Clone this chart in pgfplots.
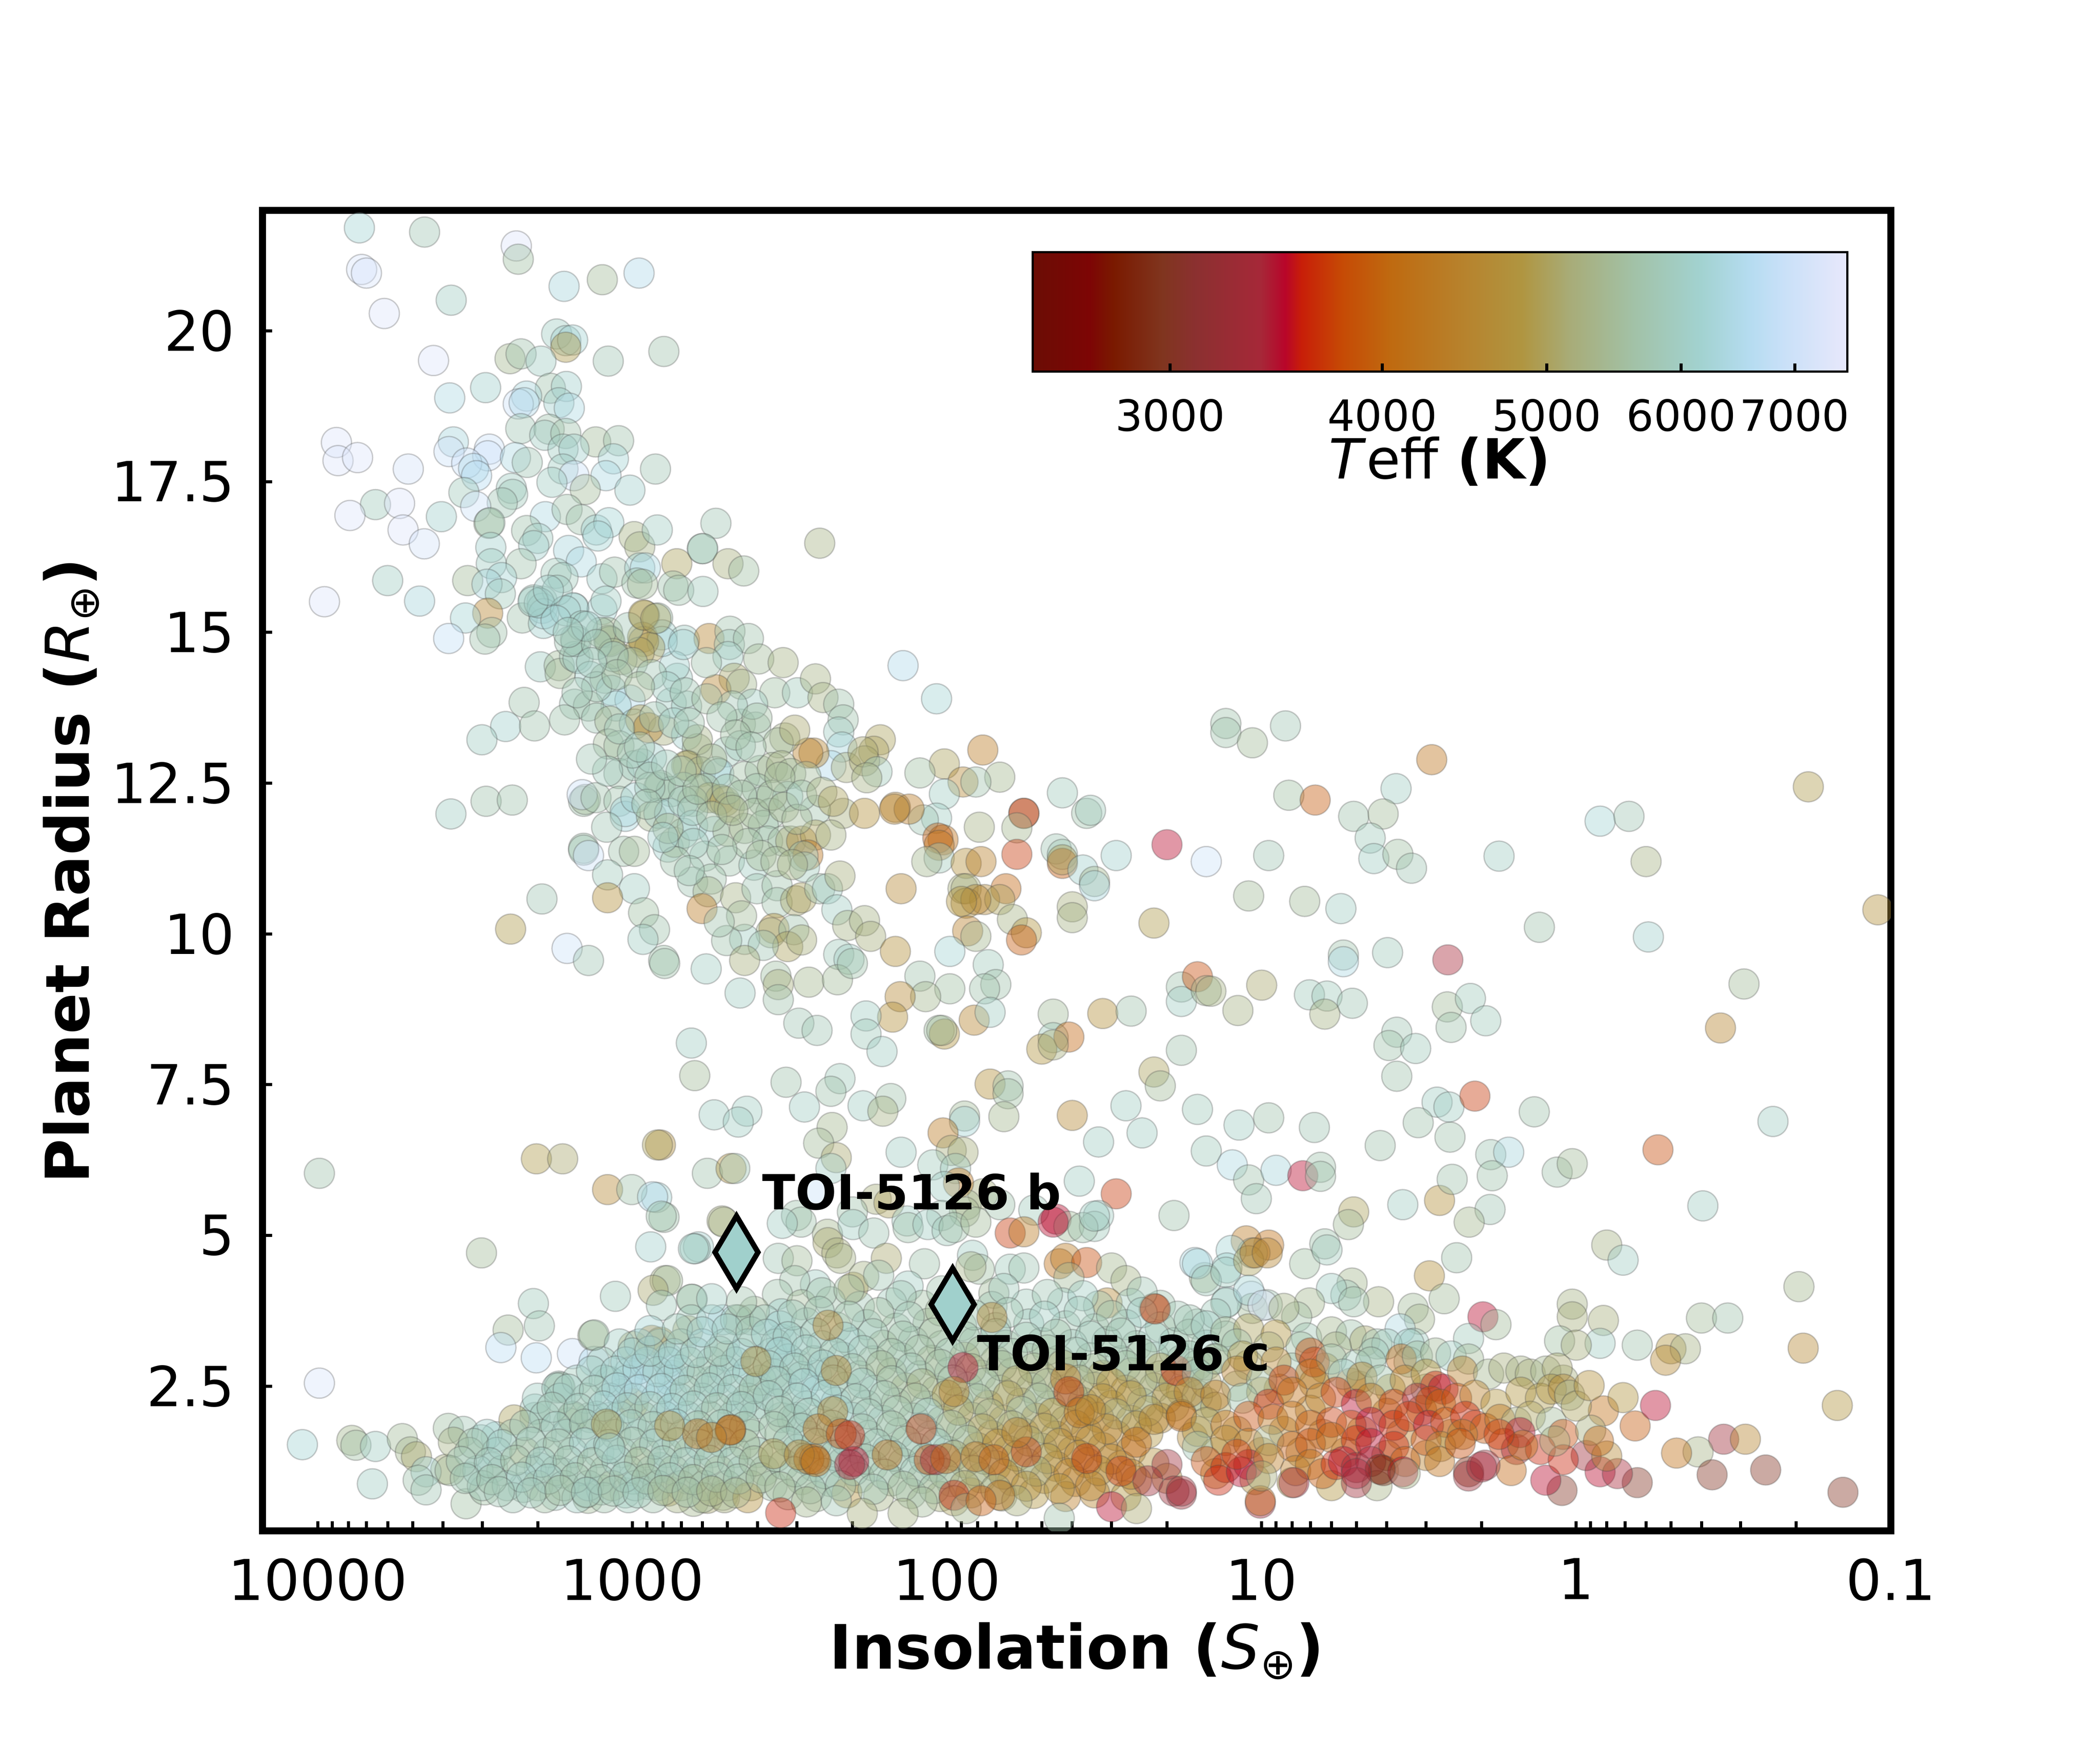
\documentclass[border=0pt]{standalone}
\usepackage{fontspec}
\usepackage{graphicx}
\usepackage{pgfplots}
\pgfplotsset{compat=1.18}
\setmainfont{DejaVu Sans}
\newcommand\subo{\raisebox{-0.3ex}{\scalebox{0.7}{\mdseries ⊕}}}
\newcommand\fs[1]{\fontsize{#1}{#1}\selectfont}

\pgfplotsset{
  colormap={teff}{[1pt]
    rgb255(0pt)=(107,13,5) rgb255(7pt)=(125,5,5) rgb255(10pt)=(122,26,0)
    rgb255(16pt)=(128,53,31) rgb255(20pt)=(139,48,48) rgb255(28pt)=(166,40,56)
    rgb255(31pt)=(184,5,42) rgb255(33pt)=(200,30,8) rgb255(38pt)=(198,74,5)
    rgb255(44pt)=(191,106,16) rgb255(52pt)=(184,128,42) rgb255(60pt)=(176,149,64)
    rgb255(66pt)=(168,172,120) rgb255(74pt)=(162,194,168) rgb255(82pt)=(162,210,208)
    rgb255(88pt)=(181,220,240) rgb255(92pt)=(200,224,248) rgb255(100pt)=(232,232,251)
  },
}

\begin{document}
\begin{tikzpicture}
\useasboundingbox (-6cm,-5cm) rectangle (42cm,35cm);
\begin{axis}[
  at={(0cm,0cm)}, anchor=south west,
  scale only axis, width=37.22cm, height=30.19cm,
  xmode=log, x dir=reverse,
  xmin=0.1, xmax=15000, ymin=0.1, ymax=22,
  xtick={0.1,1,10,100,1000,10000},
  xticklabels={0.1,1,10,100,1000,10000},
  minor xtick={0.2,0.3,0.4,0.5,0.6,0.7,0.8,0.9,2,3,4,5,6,7,8,9,20,30,40,50,60,70,80,90,200,300,400,500,600,700,800,900,2000,3000,4000,5000,6000,7000,8000,9000},
  ytick={2.5,5,7.5,10,12.5,15,17.5,20},
  yticklabels={2.5,5,7.5,10,12.5,15,17.5,20},
  xtick pos=bottom, ytick pos=left, tick align=inside,
  major tick length=0.22cm, minor tick length=0.22cm,
  tick style={black, line width=0.07cm},
  axis line style={line width=0.165cm},
  xticklabel style={font=\fs{36.6}, anchor=north, inner sep=0pt, yshift=-0.62cm},
  yticklabel style={font=\fs{36}, anchor=east, inner sep=0pt, xshift=-0.63cm},
  xlabel={\textbf{Insolation (\textit{\mdseries S}\subo)}},
  ylabel={\textbf{Planet Radius (\textit{\mdseries R}\subo)}},
  xlabel style={font=\fs{39.8}, at={(axis description cs:0.5,-0.0908)}, anchor=center},
  ylabel style={font=\fs{39.4}, at={(axis description cs:-0.1175,0.5)}, anchor=center},
  clip marker paths=true,
  colormap name=teff,
  point meta min=3.396, point meta max=3.876,
  colorbar horizontal,
  colorbar/width=2.73cm,
  colorbar style={
    at={(parent axis.south west)}, anchor=south west,
    xshift=17.6cm, yshift=26.8cm,
    scale only axis, width=18.62cm, height=2.73cm,
    xtick={3.4771,3.6021,3.6990,3.7782,3.8451},
    xticklabels={3000,4000,5000,6000,7000},
    xtick pos=bottom, tick align=inside,
    major tick length=0.19cm,
    tick style={black, line width=0.07cm},
    axis line style={line width=0.05cm},
    xticklabel style={font=\fs{28}, anchor=north, inner sep=0pt, yshift=-0.62cm},
    xlabel={\textit{T}eff \textbf{(K)}},
    xlabel style={font=\fs{36}, at={(axis description cs:0.5,-0.894)}, anchor=base},
  },
]
\addplot+[
  scatter, only marks, mark=*,
  mark size=0.345cm,
  scatter/use mapped color={draw=black!70, fill=mapped color},
  mark options={line width=0.03cm, fill opacity=0.42, draw opacity=0.28},
  point meta=explicit,
] table[x=s, y=r, meta expr={log10(\thisrow{t})}] {
s r t
7380 21.71 6200
4580 21.64 5800
2340 21.41 7300
2307 21.19 5600
7260 21.02 7200
7010 20.96 7200
1650 20.74 6300
1247 20.85 5500
953 20.96 6500
3770 20.51 6000
6150 20.29 7300
1742 19.95 6000
1629 19.84 6100
1550 19.85 6200
1629 19.73 4900
795 19.66 5700
1194 19.50 5800
2450 19.54 5400
2260 19.62 5700
1954 19.50 6000
4290 19.51 7300
2930 19.06 6100
3810 18.89 6400
1824 19.05 5700
1622 19.08 6100
2170 18.92 6300
2307 18.79 7000
2210 18.81 6500
1714 18.81 6100
1588 18.72 6400
2265 18.38 5800
1840 18.37 5700
1901 18.27 6000
1629 18.30 5700
1309 18.16 5500
1107 18.18 5700
1663 18.04 6000
1535 18.04 6100
8730 18.15 7300
8630 17.85 7300
7480 17.90 7300
5160 17.71 7100
3710 18.16 6300
3830 18.00 7000
2850 18.04 7000
2885 17.93 7000
3365 17.81 7000
3200 17.72 6500
3130 17.60 6600
2355 17.90 6400
2160 17.82 5800
1150 17.88 6200
845 17.71 5800
1663 17.71 6000
1535 17.60 7000
1214 17.60 6400
1803 17.49 6000
1413 17.37 5500
1019 17.36 6100
3435 17.32 5900
2427 17.39 6000
2404 17.29 5900
2594 17.15 5800
3150 17.09 7000
6560 17.12 5900
5500 17.14 7300
7910 16.94 7300
5360 16.70 7300
4590 16.47 7100
4050 16.92 6100
2860 16.81 5500
2840 16.82 5800
1892 16.92 6400
1614 17.04 5700
1455 16.87 5700
2170 16.69 5700
1303 16.70 6200
1189 16.82 6200
2000 16.56 6000
2060 16.44 6100
2820 16.41 6100
2810 16.14 6000
2260 16.14 5700
1596 16.36 6300
1288 16.60 6200
988 16.59 5300
948 16.42 5300
834 16.70 6000
600 16.39 5800
1455 16.17 6400
1750 15.98 5900
1663 15.91 5900
1250 15.89 6100
1140 16.00 5700
948 16.07 6200
910 16.07 6400
723 16.14 5000
3340 15.86 5500
2607 15.91 6200
2900 15.80 6300
2630 15.64 5900
6000 15.86 6000
4750 15.52 6300
9530 15.51 7300
2885 15.32 4500
3395 15.24 6200
2800 15.00 5700
2945 14.89 5700
3840 14.90 6800
2240 15.24 5700
1936 15.52 5900
2060 15.54 5900
1936 15.40 6100
1535 15.40 6000
1919 15.15 6100
1250 15.38 6200
1734 15.70 6000
1214 15.52 6000
968 15.82 5700
929 15.80 5500
743 15.77 5700
713 15.70 5700
916 15.28 5100
832 15.24 5700
805 14.96 6100
929 14.92 4700
1200 15.00 5400
1189 14.87 5400
1517 14.89 5700
684 14.87 6000
543 16.81 5800
598 16.39 5800
497 16.14 5200
443 16.02 5600
597 15.68 5900
254 16.48 5300
571 14.90 4500
490 15.02 5700
492 14.80 5900
428 14.90 5700
497 14.60 6000
397 14.56 5500
332 14.50 5300
475 14.24 5100
543 14.05 4500
450 14.14 5400
353 14.00 5600
299 14.00 5900
262 14.23 5300
248 13.92 5300
221 13.81 5700
214 13.55 5700
221 13.35 6000
216 13.10 6300
234 12.79 6500
209 12.76 5200
163 13.22 5000
171 13.03 5000
183 12.87 5100
185 13.02 5100
167 12.69 5900
180 12.59 5300
138 14.45 6500
265 13.00 4500
277 13.00 4400
1963 14.43 6000
1710 14.45 5500
1698 14.32 5500
1528 14.60 5900
1490 14.57 6000
1510 14.85 5900
1364 14.27 6100
1222 14.24 5600
1167 14.04 6200
1018 13.88 6500
1127 13.78 6200
1528 13.81 5900
1380 13.78 5700
1644 13.55 5700
1300 13.58 5800
1180 13.53 5400
986 13.48 6000
942 13.55 4900
796 13.38 5200
890 13.42 4500
1193 13.15 5500
1104 13.12 5600
1104 12.66 5700
986 12.79 5900
933 12.82 6000
870 12.92 6100
824 12.43 5700
815 12.46 5600
673 13.30 6100
622 13.07 5400
665 12.79 5200
753 13.83 6000
673 13.78 6000
720 14.24 6000
736 14.44 6100
805 14.85 6300
922 14.85 4800
881 14.75 5000
952 14.67 5000
1080 14.55 5300
1180 14.85 5300
1262 15.00 5600
1153 14.65 5400
1030 15.08 5800
922 15.29 4900
843 15.23 5100
689 14.80 6200
582 14.50 5700
454 13.48 5600
406 13.43 5700
415 13.81 6000
481 13.78 5800
502 13.02 5900
454 13.12 5900
402 13.58 5600
328 13.25 5300
344 13.17 5500
305 13.38 5100
622 13.22 5300
673 12.79 5000
608 12.69 5400
543 12.69 6100
532 12.66 6300
440 12.61 5600
393 12.71 5600
359 12.76 5400
336 12.79 5300
314 12.66 5500
281 12.61 5500
589 12.41 5500
569 12.26 5000
526 12.23 5000
508 12.20 5000
492 12.10 5100
689 12.43 5700
753 12.36 5800
644 12.20 5500
402 12.41 5700
384 12.20 5700
321 12.28 6100
363 12.00 5700
214 12.00 5200
183 12.00 4700
146 12.10 4500
262 12.05 5700
1430 12.20 5700
1412 12.23 5500
1445 12.31 7000
1306 12.26 5700
1104 12.20 5700
1054 11.95 6300
1054 12.03 6300
975 12.26 6200
870 11.95 5400
824 12.00 6000
762 12.00 6200
689 12.20 5800
881 12.43 5900
2920 12.20 5700
2410 12.22 5700
3777 11.99 6000
1208 11.77 5800
1067 11.37 5700
986 11.37 5500
1430 11.42 5700
1430 11.39 5800
1380 11.30 7000
771 11.44 6100
736 11.52 5400
689 11.67 6000
644 11.80 6100
644 12.05 5900
771 11.75 5400
550 11.70 6100
497 11.70 5400
440 11.75 5500
384 11.80 5700
372 11.54 5700
332 11.54 5600
314 11.54 5200
290 11.54 4600
262 11.64 5000
234 11.64 5300
277 11.31 4200
589 11.29 5800
492 11.21 5700
411 11.14 6000
287 11.29 5900
284 11.11 5900
644 10.86 5800
562 10.91 5700
575 10.70 5400
470 10.60 5300
402 10.75 5800
347 10.80 5700
347 10.52 5700
303 10.55 5100
290 10.60 5000
254 10.75 5700
240 10.75 6000
219 10.96 5200
601 10.42 4300
1200 10.98 5900
986 10.75 6000
1200 10.60 4700
922 10.35 5600
851 10.07 5700
926 9.91 6000
1940 10.58 5800
2440 10.08 4900
1614 9.76 7000
1380 9.56 5800
224 10.40 6000
207 10.14 5300
183 10.22 5300
175 9.96 5200
146 9.71 4700
140 10.75 4600
355 10.09 4700
363 10.02 5300
307 10.07 5700
321 9.79 5000
440 9.91 6000
502 9.89 5700
384 9.81 5800
796 9.56 5700
221 9.66 5900
205 9.58 6000
440 9.56 5200
1914 15.31 6300
1977 15.49 6100
2070 15.51 6000
1545 15.41 6200
1633 15.36 6100
1445 15.11 5900
1585 14.85 5800
2210 13.84 5700
2530 13.44 6100
2048 13.45 5700
3010 13.22 6000
1400 15.10 6100
1300 14.80 5800
1150 14.60 6000
1000 14.50 5600
870 14.30 5800
780 14.10 6000
680 14.00 5800
1300 14.10 5800
1120 14.30 5600
950 14.10 5500
850 13.60 5800
740 13.50 6000
660 13.50 5700
580 13.90 5600
520 13.60 5700
470 13.30 5600
420 13.10 5700
1000 13.00 5800
880 12.60 5700
780 12.80 5900
700 12.70 5700
620 12.40 5600
560 12.90 5400
500 12.40 5700
450 12.30 5600
410 12.00 5500
360 12.30 5500
330 12.10 5400
300 11.90 5500
560 11.95 5600
480 12.05 5400
430 11.50 5600
390 11.30 5500
350 11.20 5500
310 11.15 5300
520 11.40 5700
640 11.50 5900
1750 15.20 6200
1600 15.00 5900
1850 15.70 6100
1350 14.50 5900
1500 14.00 5800
1100 13.40 5900
950 13.10 5800
1200 12.70 5900
1350 12.90 5800
900 12.15 5700
730 11.20 5700
660 11.05 5800
800 11.60 6100
340 12.60 5500
290 12.30 5700
250 12.35 5300
230 12.20 5000
450 10.30 5500
530 10.20 5700
350 9.30 5600
290 9.90 5200
108 13.90 6200
77 13.05 4300
102 12.82 5000
122 12.67 5600
68 12.60 5400
89 12.52 4600
81 12.52 5700
102 12.32 6000
43 12.34 5900
36 12.00 5700
35 12.05 5900
57 12.00 3500
57 12.00 4200
79 11.77 5300
60 11.76 5400
108 11.92 6000
119 11.89 5800
132 12.07 4300
147 12.07 4500
103 11.56 4100
107 11.59 3900
106 11.47 4200
60 11.32 3700
45 11.41 5800
43 11.32 5800
43 11.17 3900
43 11.23 5000
37 11.06 6100
34 10.87 5400
34 10.80 6300
29 11.30 6100
20 11.48 3500
15 11.20 7000
106 11.26 5900
116 11.20 5400
87 11.17 4700
78 11.20 4400
89 10.75 5200
87 10.75 5200
65 10.75 4000
76 10.57 4600
87 10.51 4700
68 10.57 5000
81 10.57 4500
90 10.54 4800
62 10.24 5300
56 10.02 4800
58 9.90 3900
86 10.05 4400
81 9.96 5400
40 10.45 5200
40 10.27 5300
22 10.18 4900
98 9.71 6200
74 9.49 5900
70 9.16 5700
76 9.09 5700
98 9.09 5600
122 9.30 5700
117 8.96 5400
141 8.96 4600
149 8.62 4700
181 8.64 6000
181 8.34 5900
161 8.05 6000
82 8.57 4500
73 8.70 6000
106 8.40 5600
102 8.34 4800
104 8.40 5500
18 9.12 5700
18 8.88 6000
16 9.29 3800
15 9.06 5400
46 8.67 5500
46 8.28 5900
41 8.29 4000
50 8.09 4800
46 8.16 5200
32 8.68 4700
26 8.72 5700
18 8.07 5700
22 7.71 5000
21 7.48 5500
16 7.09 5900
27 7.15 6000
24 6.70 6000
33 6.55 6000
15 6.40 5900
40 6.99 4600
73 7.51 4700
64 7.48 5700
64 7.35 5600
66 6.97 5400
88 6.98 5500
88 6.89 6200
103 6.70 4300
97 6.41 5200
89 6.38 5200
140 6.38 6000
111 6.17 5900
94 6.11 5900
650 8.19 6000
634 7.65 5500
325 7.54 5700
219 7.60 5900
234 7.39 5700
284 7.13 6000
185 7.15 6000
151 7.27 5700
160 7.06 5300
550 7.00 6000
433 7.06 6000
461 6.88 6000
232 6.79 5400
256 6.53 5500
225 6.29 5100
578 6.03 5700
486 6.11 4800
473 6.11 5800
815 6.50 4700
234 6.11 6000
260 5.72 6900
583 9.42 6000
455 9.02 6000
344 9.16 5200
275 9.20 5400
223 9.24 5500
344 8.91 5700
296 8.52 5800
259 8.40 5800
200 9.51 5700
790 9.51 5700
38 5.90 6000
29 5.69 3700
19 5.33 5700
77 5.69 5200
68 5.51 5700
92 5.87 4200
102 5.81 6000
87 5.51 5400
88 5.39 5400
104 5.33 5800
53 5.42 5900
45 5.27 3500
41 5.15 5500
33 5.33 6000
34 5.15 5900
168 5.60 5200
153 5.54 5000
200 5.39 5700
301 5.33 5700
134 5.24 6000
519 5.24 5200
838 5.63 6200
794 5.30 5700
13 13.49 5700
13 13.34 5700
10.7 13.17 5500
8.4 13.45 5800
2.88 12.89 4200
8.2 12.30 5600
6.76 12.22 3900
3.74 12.41 6000
5.1 11.95 5700
4.11 11.99 5500
4.52 11.59 5900
4.4 11.25 6000
3.69 11.32 5600
3.34 11.09 5800
1.76 11.29 6000
0.84 11.87 6200
0.68 11.95 5800
0.6 11.20 5300
0.183 12.44 4900
0.11 10.40 4700
9.5 11.30 5800
11 10.63 5500
7.3 10.54 5500
5.6 10.42 6000
1.31 10.11 5700
0.59 9.95 6100
5.5 9.65 5700
5.5 9.54 6400
3.98 9.69 5900
2.56 9.57 3400
14.5 9.05 5300
11.9 8.73 5300
10 9.15 5100
7.05 8.99 5900
6.2 8.97 5900
5.15 8.85 5800
6.3 8.67 5300
2.57 8.79 5500
2.17 8.93 5900
2.5 8.45 5700
1.94 8.56 5900
3.72 8.37 5800
3.94 8.15 5700
3.24 8.10 5900
3.72 7.64 5700
0.293 9.17 5500
0.348 8.44 4500
2.77 7.21 6000
2.54 7.13 6000
2.1 7.31 3700
3.18 6.87 5700
2.52 6.63 5700
1.36 7.05 5700
11.8 6.83 6000
9.5 6.95 5700
6.8 6.79 5800
4.2 6.49 5700
1.87 6.34 5800
1.64 6.38 6300
0.55 6.42 3800
0.237 6.89 6000
1.15 6.05 5700
1.03 6.19 5500
12.4 6.17 6400
11 5.92 5700
9 6.08 6300
7.4 5.99 3500
6.5 6.13 5700
6.5 5.98 5700
10.4 5.61 5800
5.1 5.39 5000
5.3 5.18 5500
3.56 5.51 6000
2.72 5.58 4700
2.48 5.93 5700
1.85 5.99 5700
1.88 5.43 5800
2.19 5.22 5400
0.396 5.49 6000
0.8 4.84 5300
0.71 4.59 6000
2.4 4.63 5700
2.93 4.33 4700
2.63 3.95 5500
0.196 4.15 5400
0.4 3.63 5500
0.33 3.63 5700
0.19 3.13 4600
0.148 2.18 4800
1.03 3.86 5300
1.03 3.65 5200
0.82 3.59 5200
0.84 3.21 6000
0.64 3.18 5700
0.5 3.12 4800
0.45 3.12 5300
0.52 2.93 4600
1.13 3.25 5600
1 3.18 5200
1.98 3.65 3500
1.8 3.52 5500
2.2 3.29 5900
3.3 3.79 5500
3.15 3.61 5400
3.63 3.45 6400
3.28 3.21 6000
4.25 3.90 5300
5.16 4.21 5400
5.4 4.01 5900
6 4.12 6000
5.1 3.90 5700
7.05 3.88 5400
7.74 3.65 5600
10.8 3.99 7300
10.7 3.79 5500
9.6 3.85 5800
12.9 3.90 6400
7.3 4.53 5600
6.3 4.86 5700
6.2 4.76 5900
9.5 4.84 4100
11.2 4.91 4300
10.7 4.71 5400
12.5 4.75 6200
12.9 4.46 6100
15.2 4.30 5400
16.3 4.55 6400
513 5.22 5300
291 5.22 5700
334 5.20 6000
240 5.02 5400
239 4.88 5100
224 4.71 5200
218 4.62 5300
617 4.81 6100
632 4.78 6000
344 4.62 5800
300 4.58 5500
262 4.18 6000
305 4.25 5700
788 4.25 5300
646 3.94 5700
199 5.18 6000
199 4.14 4900
171 5.04 5800
133 5.13 5700
115 5.18 6000
100 5.08 5900
95 5.13 5700
81 5.22 5500
156 4.62 5100
184 4.32 5300
118 4.53 5700
133 4.16 6000
165 4.34 5800
83 4.67 6000
79 4.44 5600
71 4.04 5500
84 4.48 5300
63 4.44 5900
57 4.46 5800
63 5.04 3700
57 5.06 4300
46 5.22 3500
44 4.53 4100
42 4.62 4300
36 4.55 3800
41 4.30 5500
37 5.13 5700
34 5.32 6000
30 4.46 5400
27 4.25 5300
22 3.79 3800
31 3.88 4600
16 4.53 6300
15 4.25 5900
13 4.39 6000
11 4.58 5000
10.5 4.71 4300
9.6 4.71 4500
13 3.88 5800
11 4.09 6200
9.9 3.84 7300
8.5 3.79 5300
9890 6.03 5700
2020 6.27 4900
1667 6.27 5100
833 6.50 5000
1200 5.76 4600
1005 5.76 5700
863 5.64 6500
810 5.32 5700
3020 4.71 5500
875 4.81 6100
640 4.78 6000
774 4.25 5500
860 4.09 5100
809 3.84 5900
1133 3.99 5900
649 3.94 5700
2065 3.87 5900
1977 3.50 5800
2485 3.43 5500
2620 3.14 6700
2022 2.97 6700
1552 3.04 7000
1324 2.91 6500
1336 3.34 5400
1324 3.35 5700
869 3.26 4300
995 3.16 5000
815 3.23 4700
1714 2.50 5900
1700 2.48 5600
9890 2.55 7200
11200 1.53 6200
7800 1.60 5400
7570 1.52 5600
6560 1.50 6000
5390 1.63 5500
5080 1.41 5400
4860 1.33 5100
6710 0.88 6000
3850 1.80 5600
3450 1.75 5800
3920 1.12 5200
4530 1.08 6200
4800 0.94 5700
4530 0.78 5800
3380 0.55 5600
3310 0.99 5700
2710 1.66 6100
3030 1.61 5900
3710 1.57 5300
2950 0.78 5600
2220 0.82 5800
1762 0.69 6000
1403 0.73 5200
1384 0.64 5500
1253 0.78 5900
1054 0.73 6000
889 0.87 5800
769 0.76 4900
640 0.59 5400
578 0.64 5100
516 0.69 5500
2786 1.15 6000
1977 1.15 6100
1667 1.06 5900
995 0.96 6000
815 1.15 5900
667 0.96 5800
2040 1.98 5700
2040 2.12 6000
2380 1.94 5000
1552 1.98 5200
1596 1.89 5500
1365 1.98 5700
1183 1.98 5800
2005 2.30 6000
1738 2.47 5900
748 2.68 6400
748 2.35 6400
1026 2.72 6100
1084 2.37 6000
1183 2.58 5900
995 2.21 4800
562 2.58 5800
501 3.00 5700
336 3.28 6100
399 2.49 6000
336 2.58 5700
300 2.86 5900
460 2.17 5700
399 2.21 6100
336 1.98 5800
260 2.68 6000
300 1.98 5800
346 4.02 5700
336 3.70 6100
410 3.74 5500
516 3.60 6400
460 3.60 5300
769 2.96 6300
914 2.86 5800
667 3.42 5100
650 3.60 5900
560 3.60 6200
470 3.60 6000
420 3.60 5800
1100 3.20 6000
950 3.20 6100
820 3.20 6000
700 3.20 5800
600 3.20 6300
510 3.20 5900
430 3.20 6100
1250 2.90 5900
1050 2.90 6200
900 2.90 6400
770 2.90 6100
660 2.90 5700
560 2.90 5900
470 2.90 6000
400 2.90 5800
1500 2.60 5900
1230 2.60 6000
1040 2.60 6200
880 2.60 6400
760 2.60 6400
640 2.60 5900
540 2.60 6000
460 2.60 6100
390 2.60 5700
1700 2.30 6000
1400 2.30 5800
1180 2.30 6100
990 2.30 6000
840 2.30 6300
710 2.30 6200
600 2.30 5900
510 2.30 6100
430 2.30 5800
1900 2.00 5900
1550 2.00 5700
1300 2.00 5900
1100 2.00 6000
930 2.00 5700
790 2.00 6200
670 2.00 6000
570 2.00 5800
480 2.00 6000
410 2.00 5800
2900 1.70 6100
2400 1.70 5800
1950 1.70 5700
1620 1.70 6000
1350 1.70 5600
1130 1.70 5500
950 1.70 6100
810 1.70 5700
690 1.70 6000
580 1.70 5800
490 1.70 5500
420 1.70 5700
3300 1.40 5700
2700 1.40 6000
2200 1.40 5300
1850 1.40 5800
1550 1.40 5900
1280 1.40 6000
1080 1.40 5900
910 1.40 5500
780 1.40 5900
660 1.40 5500
560 1.40 6100
470 1.40 5700
400 1.40 5900
3800 1.10 5500
3100 1.10 6100
2600 1.10 5800
2100 1.10 5900
1750 1.10 5700
1450 1.10 6000
1220 1.10 5800
1030 1.10 5700
870 1.10 6000
740 1.10 5500
620 1.10 5800
530 1.10 5400
450 1.10 5900
380 1.10 5700
3000 0.85 5900
2500 0.85 6000
2000 0.85 5500
1650 0.85 5800
1380 0.85 5900
1160 0.85 5300
980 0.85 6000
830 0.85 5800
700 0.85 5400
590 0.85 5800
500 0.85 5600
420 0.85 5400
360 0.85 5700
2400 0.65 5800
1900 0.65 5600
1500 0.65 6000
1230 0.65 5700
1030 0.65 5900
860 0.65 5700
720 0.65 5300
600 0.65 5500
510 0.65 5200
430 0.65 4700
1350 2.75 6000
1130 2.75 6100
960 2.78 6400
830 2.74 6000
710 2.77 6100
600 2.73 5800
510 2.76 6000
430 2.74 6100
1600 2.45 6000
1320 2.43 5900
1120 2.47 6300
950 2.44 6400
810 2.46 6200
680 2.43 5800
570 2.47 6000
480 2.44 5900
410 2.46 5700
1800 2.15 5800
1480 2.13 5900
1240 2.17 6200
1040 2.14 6000
880 2.16 5800
750 2.13 6100
640 2.17 6000
540 2.14 5700
450 2.16 6000
2200 1.85 5800
1750 1.83 6000
1420 1.87 5800
1190 1.84 6000
1010 1.86 5900
860 1.83 5800
730 1.87 6200
620 1.84 5700
520 1.86 5900
440 1.83 5700
3200 1.55 5700
2600 1.53 6000
2100 1.57 5900
1720 1.54 5700
1420 1.56 6100
1190 1.53 5900
1000 1.57 5700
850 1.54 6000
720 1.56 5700
610 1.53 6000
520 1.57 5900
440 1.54 5500
3500 1.25 5800
2850 1.23 5900
2350 1.27 5600
1950 1.24 6000
1600 1.26 5800
1340 1.23 5600
1120 1.27 6000
950 1.24 5500
800 1.26 5800
680 1.23 6000
570 1.27 5700
480 1.24 5800
410 1.26 5500
3400 0.97 5800
2800 0.95 5700
2250 0.99 6000
1850 0.96 6000
1520 0.98 5700
1270 0.95 5800
1060 0.99 5900
900 0.96 5600
760 0.98 5900
640 0.95 5500
540 0.99 5800
460 0.96 5700
390 0.98 5500
2650 0.75 5800
2100 0.73 5900
1700 0.77 5600
1400 0.74 6000
1150 0.76 5800
960 0.73 5900
800 0.77 5500
670 0.74 5700
560 0.76 5300
470 0.73 5400
1000 3.05 6100
880 3.08 6000
740 3.04 6200
630 3.06 6000
530 3.08 5800
450 3.04 6100
880 3.42 6200
720 3.45 5900
600 3.40 6100
500 3.45 6000
420 3.40 5800
360 3.05 6000
380 3.60 5900
450 3.90 5700
560 3.95 6000
290 3.85 5500
235 3.90 5700
190 3.82 5800
150 3.88 5900
120 3.84 5600
92 3.90 5700
72 3.82 5800
56 3.86 5900
43 3.88 6000
33 3.83 5800
26 3.87 5900
21 3.84 5700
340 3.50 6200
280 3.55 5800
225 3.48 5600
180 3.52 6000
145 3.46 5700
115 3.54 5500
90 3.50 5700
70 3.47 5700
55 3.53 5900
42 3.50 5800
34 3.45 5700
27 3.52 5900
21 3.48 5600
16 3.53 5800
350 3.20 5800
300 3.24 6000
250 3.17 5900
200 3.22 5900
160 3.18 5500
128 3.24 5800
104 3.17 5600
82 3.23 5700
65 3.18 5600
50 3.22 5800
40 3.19 5900
31 3.24 5800
25 3.17 5700
19 3.22 5900
15 3.18 6000
320 2.95 6100
265 2.92 5700
215 2.98 6000
172 2.92 5600
140 2.97 5800
112 2.93 5400
88 2.98 5200
70 2.92 5300
55 2.96 5500
44 2.93 5400
35 2.97 5600
28 2.92 5800
22 2.98 5700
18 2.93 5600
14 2.96 5500
355 2.70 5700
290 2.66 6000
235 2.73 6100
190 2.67 5700
150 2.72 5400
122 2.67 5700
98 2.73 5700
78 2.68 5500
62 2.72 5300
50 2.66 5100
40 2.73 5500
32 2.68 4800
26 2.72 5300
21 2.67 5500
17 2.73 5000
320 2.45 5900
260 2.42 6100
210 2.48 5800
170 2.43 5800
135 2.47 5200
108 2.42 5500
86 2.48 5700
68 2.43 5300
54 2.47 5600
43 2.42 5200
34 2.48 5000
27 2.43 4700
22 2.47 5200
18 2.42 4700
345 2.20 5700
280 2.17 5900
225 2.23 6200
180 2.18 5900
145 2.22 5600
116 2.17 5800
92 2.23 5600
74 2.18 4800
58 2.22 5100
47 2.17 5400
37 2.23 5000
30 2.18 4800
24 2.22 5600
19 2.17 5300
15 2.23 5000
310 1.95 5800
250 1.92 5700
200 1.98 6100
160 1.93 6000
128 1.97 5700
104 1.92 5400
83 1.98 5200
66 1.93 4900
52 1.97 4700
42 1.92 5200
33 1.98 4600
26 1.93 5000
21 1.97 4600
340 1.70 5600
275 1.67 5900
222 1.73 5700
178 1.68 5900
142 1.72 5800
113 1.67 6000
90 1.73 5600
72 1.68 4700
57 1.72 4700
45 1.67 4800
36 1.73 4700
29 1.68 4600
23 1.72 4800
300 1.45 5900
245 1.42 5700
195 1.48 5800
155 1.43 6000
125 1.47 6000
100 1.42 5700
80 1.48 4800
64 1.43 5000
50 1.47 5300
40 1.42 4700
32 1.48 4500
26 1.43 4400
330 1.20 5800
265 1.17 6000
215 1.23 5700
172 1.18 5800
138 1.22 5700
110 1.17 6000
88 1.23 5000
70 1.18 4800
56 1.22 5300
45 1.17 4500
36 1.23 4300
28 1.18 4400
22 1.22 4700
290 0.95 5500
235 0.92 5800
190 0.98 5500
150 0.93 5700
120 0.97 5400
97 0.92 5700
78 0.98 5300
62 0.93 4700
49 0.97 4600
39 0.92 4400
31 0.98 4700
25 0.93 4300
20 0.97 4600
320 0.70 5600
260 0.67 5500
208 0.73 4700
165 0.68 5300
130 0.72 5700
105 0.67 5200
84 0.73 4700
67 0.68 5200
53 0.72 4800
42 0.67 4300
34 0.73 4500
27 0.68 4800
250 4.05 5700
205 4.10 5600
140 4.00 5800
104 4.08 5700
66 4.12 5900
48 4.02 5800
37 4.00 6000
24 4.06 5800
310 3.68 5900
255 3.74 5800
205 3.66 5700
165 3.72 5600
132 3.65 5800
105 3.75 5500
82 3.68 5700
64 3.72 5800
49 3.66 6000
38 3.74 5900
30 3.67 5700
24 3.72 6000
18.5 3.66 5800
14 3.70 5900
375 3.36 6100
320 3.32 6000
262 3.38 5900
212 3.31 6100
172 3.37 5800
138 3.33 5700
110 3.38 5600
88 3.32 5700
70 3.37 5900
56 3.31 5800
45 3.36 5700
35 3.33 5900
28 3.38 5800
22 3.32 6000
17 3.36 5700
13 3.33 5900
340 3.06 6200
280 3.10 6000
228 3.05 5800
185 3.09 5900
150 3.04 5700
122 3.10 5600
98 3.05 5800
78 3.08 5500
62 3.04 5700
48 3.10 5600
39 3.06 5800
30 3.09 5700
24 3.04 5600
19 3.08 5800
370 2.84 6000
305 2.80 5900
248 2.85 6100
200 2.79 5700
162 2.84 5500
130 2.80 5800
105 2.86 5600
84 2.79 5300
67 2.84 5500
53 2.80 5400
43 2.85 5200
34 2.79 5500
27 2.84 5600
21 2.80 5000
16 2.85 5600
350 2.58 6000
285 2.54 6200
230 2.60 5800
186 2.55 6000
150 2.59 5700
120 2.54 5300
96 2.60 5600
76 2.55 5600
60 2.59 5000
48 2.54 5400
38 2.60 5300
30 2.55 4800
24 2.59 5200
19 2.54 5000
370 2.34 6000
300 2.30 6000
242 2.35 6100
195 2.29 5800
158 2.34 5700
126 2.30 5600
100 2.35 4900
80 2.29 5500
64 2.34 5000
51 2.30 5500
40 2.35 5200
32 2.29 4700
26 2.34 4800
20 2.30 4700
16 2.35 5500
340 2.08 5800
275 2.05 5900
222 2.10 6000
178 2.04 5800
144 2.09 5700
115 2.05 5900
92 2.10 5000
73 2.04 5400
58 2.08 5600
46 2.05 4800
37 2.10 4600
29 2.04 5200
23 2.09 5000
355 1.83 5700
290 1.80 5900
232 1.85 5900
186 1.79 5700
150 1.84 5600
120 1.80 6000
97 1.85 5500
77 1.79 5000
62 1.84 5200
49 1.80 5000
39 1.85 4400
31 1.79 4500
25 1.84 4700
320 1.58 5900
260 1.55 5600
210 1.60 6000
168 1.54 5800
135 1.59 5700
108 1.55 5900
86 1.60 5500
69 1.54 4600
55 1.59 5100
44 1.55 4600
35 1.60 4600
350 1.33 5600
285 1.30 5800
228 1.35 5900
182 1.29 5700
148 1.34 5800
118 1.30 5700
95 1.35 5200
76 1.29 5400
60 1.34 4900
48 1.30 4800
38 1.35 4500
30 1.29 4500
305 1.08 5700
245 1.05 5900
198 1.10 5800
158 1.04 5700
126 1.09 5900
102 1.05 5500
82 1.10 5300
66 1.04 4600
52 1.09 5200
41 1.05 4400
33 1.10 4600
26 1.04 4500
340 0.83 5500
272 0.80 5700
218 0.85 5700
172 0.79 5800
138 0.84 5500
110 0.80 5600
88 0.85 5100
70 0.79 5300
56 0.84 4700
44 0.80 4800
35 0.85 4400
280 0.58 5400
225 0.60 5800
120 0.58 5500
95 0.60 5000
60 0.60 5200
1210 1.87 4900
1180 1.47 6000
621 1.71 4200
487 1.78 4000
405 2.91 4700
356 1.38 4900
275 1.29 4100
264 1.29 4000
338 0.40 3600
239 3.51 4500
225 2.76 4500
89 2.81 3500
95 2.41 4400
72 3.64 4500
42 2.62 4300
41 2.41 3700
21.8 3.78 3700
18.7 2.76 3600
762 1.84 4700
489 1.77 4100
561 1.65 4300
231 2.08 4600
257 1.79 4200
217 1.71 3800
204 1.68 3600
295 1.36 4500
261 1.25 4100
198 1.25 3500
204 1.20 3400
155 1.36 4100
121 1.79 3700
114 1.28 3800
109 1.28 3400
101 1.30 4000
81 1.33 4200
71 1.28 3900
56 1.41 3700
60 1.73 4400
38 2.06 4200
35 2.11 4500
36 1.30 3700
25 1.57 4000
28 1.09 3700
20 1.20 3300
23 0.93 3300
95 0.69 3600
68 0.69 4100
22 1.95 4500
18 2.03 4500
16.6 1.65 4600
186 0.39 5200
138 0.39 5300
44 0.31 5700
30 0.50 3500
25 0.47 5100
87 0.47 5400
78 0.60 3900
19 0.76 3300
18 0.71 3300
17 3.60 5800
15 3.50 6000
13 3.40 5500
11 3.45 5000
9 3.35 4800
7.2 3.30 5800
6 3.40 5400
5.2 3.35 5700
4.7 3.25 5100
4.3 3.20 5800
4 3.20 5900
3.4 3.20 6000
12 3.20 5700
9.5 3.15 5200
7.5 3.15 5600
5.8 3.15 5300
4.4 3.05 5900
3.4 2.90 5800
15 2.85 5700
11 2.85 5000
8 2.80 5700
6.3 2.80 4800
4.9 2.50 5300
3.9 2.45 4800
3 2.45 5300
15 2.55 5000
12 2.50 5500
8.8 2.45 4600
6.8 2.55 4700
5.2 2.55 4300
14 2.15 5000
10 2.40 4800
7 2.10 4500
4 2.05 4300
3.1 2.10 3900
16 1.75 4800
12 1.75 4900
8.5 1.75 4500
6.4 1.70 4500
4.8 1.75 4400
3.6 1.70 4300
2.5 1.70 4500
14 1.40 4800
10 1.40 4700
7.5 1.40 4600
5.4 1.40 4500
4 1.35 4600
3 1.35 4400
14 1.05 4600
10.5 0.95 4700
8 0.90 4800
6 0.85 4800
4.3 0.85 5300
17 3.00 5800
14 2.95 5500
11.5 3.00 4900
9 2.90 4500
7 3.05 3800
6.8 2.90 3700
6 2.95 5700
5 2.85 5900
4.5 2.90 5700
3.6 2.95 4000
3.2 3.00 5600
2.8 3.05 5500
2.5 3.00 6000
2.2 2.95 5500
16 2.70 5900
12 2.75 4400
10 2.60 5600
8.5 2.60 3700
7 2.70 4200
5.5 2.70 6000
4.8 2.65 4500
4.2 2.60 5700
3.5 2.60 4500
3 2.70 4800
2.8 2.50 3600
2.65 2.45 3500
2.3 2.75 4400
1.9 2.70 5400
1.7 2.80 5200
1.5 2.75 5300
1.4 2.70 5200
1.25 2.75 5400
1.1 2.60 5200
1.15 2.80 5100
17 2.40 4400
14 2.35 4300
11.5 2.30 5700
9.5 2.20 3600
8 2.40 4100
6.5 2.30 4300
5.8 2.40 3700
5 2.20 3500
4.5 2.30 4200
3.8 2.20 3700
3.2 2.30 3400
2.9 2.25 3800
2.7 2.20 4000
2.4 2.30 3800
2.1 2.35 4400
1.8 2.20 4800
1.5 2.40 4800
1.3 2.30 4900
1.2 2.45 4800
1.1 2.45 4600
1.05 2.35 5400
18 2.00 4000
15 1.90 5000
13 1.85 4100
11 2.00 3800
9.2 1.95 4200
8 2.00 4100
7 1.85 3900
6 1.90 3700
5.2 1.85 3800
4.5 1.90 3500
3.8 1.85 3600
3.4 2.00 3700
2.95 1.85 3500
2.6 1.90 3800
2.25 2.00 3600
2.1 1.85 3700
1.95 1.80 3900
1.75 1.95 4200
1.55 1.90 5200
1.4 2.00 5000
1.2 1.90 5500
1.1 1.70 3800
16 1.50 5800
13 1.60 4600
11 1.55 4200
9.5 1.60 5300
8 1.50 3900
7 1.55 3800
6 1.65 4000
5 1.60 3600
4.5 1.55 3500
3.8 1.50 3600
3 1.60 3800
2.7 1.50 4700
2.3 1.70 4400
1.7 1.55 3700
1.55 1.45 3400
1.3 1.45 3600
15 1.25 3800
13 1.15 3600
11 1.20 3500
9.5 1.30 4300
7.8 1.10 4300
7 1.20 4100
6.4 1.05 3900
5.8 1.20 3600
5.5 1.25 3500
5 1.15 3400
4.5 1.25 3400
4.1 1.10 2900
3.5 1.25 3900
0.34 1.62 3300
0.29 1.62 4500
0.41 1.41 5300
0.48 1.39 4100
0.37 1.03 3000
0.25 1.11 3000
0.142 0.74 3000
0.64 0.90 3000
1.11 0.77 3000
1.25 0.94 3500
0.84 1.08 3500
0.74 1.05 3400
0.93 1.35 3300
0.8 1.34 4600
1.1 1.28 3600
1.61 1.10 4000
2.2 1.08 2800
2.2 1.01 3300
1.95 1.19 3300
2 1.16 3400
2.72 1.25 4100
2.34 1.55 3800
1.51 1.73 3500
1.17 1.59 5200
1.48 1.52 4100
1.76 1.70 3700
0.65 1.84 3900
0.56 2.18 3500
0.82 2.09 4100
0.71 2.31 4800
0.9 1.77 5200
0.85 1.59 4000
1 2.17 5000
0.91 2.51 4700
3.56 1.08 3500
3.5 1.05 5300
4.2 1.12 2800
5 0.90 3300
5 1.05 3400
10.1 0.56 3400
10.1 0.60 4000
7.9 0.90 3400
18 0.76 3300
13.7 0.94 3600
11.6 1.08 3500
12 1.37 3700
10 1.01 5200
};
\addplot[
  only marks, mark=diamond*, mark size=0.83cm,
  mark options={xscale=0.79, fill={rgb,255:red,160;green,208;blue,204}, draw=black, line width=0.12cm},
] coordinates {(467,4.72) (96,3.855)};
\node[anchor=base west, inner sep=0pt, font=\fs{31.5}\bfseries] at (axis cs:387,5.43) {TOI-5126 b};
\node[anchor=base west, inner sep=0pt, font=\fs{31.5}\bfseries] at (axis cs:80.3,2.76) {TOI-5126 c};
\end{axis}
\end{tikzpicture}
\end{document}
